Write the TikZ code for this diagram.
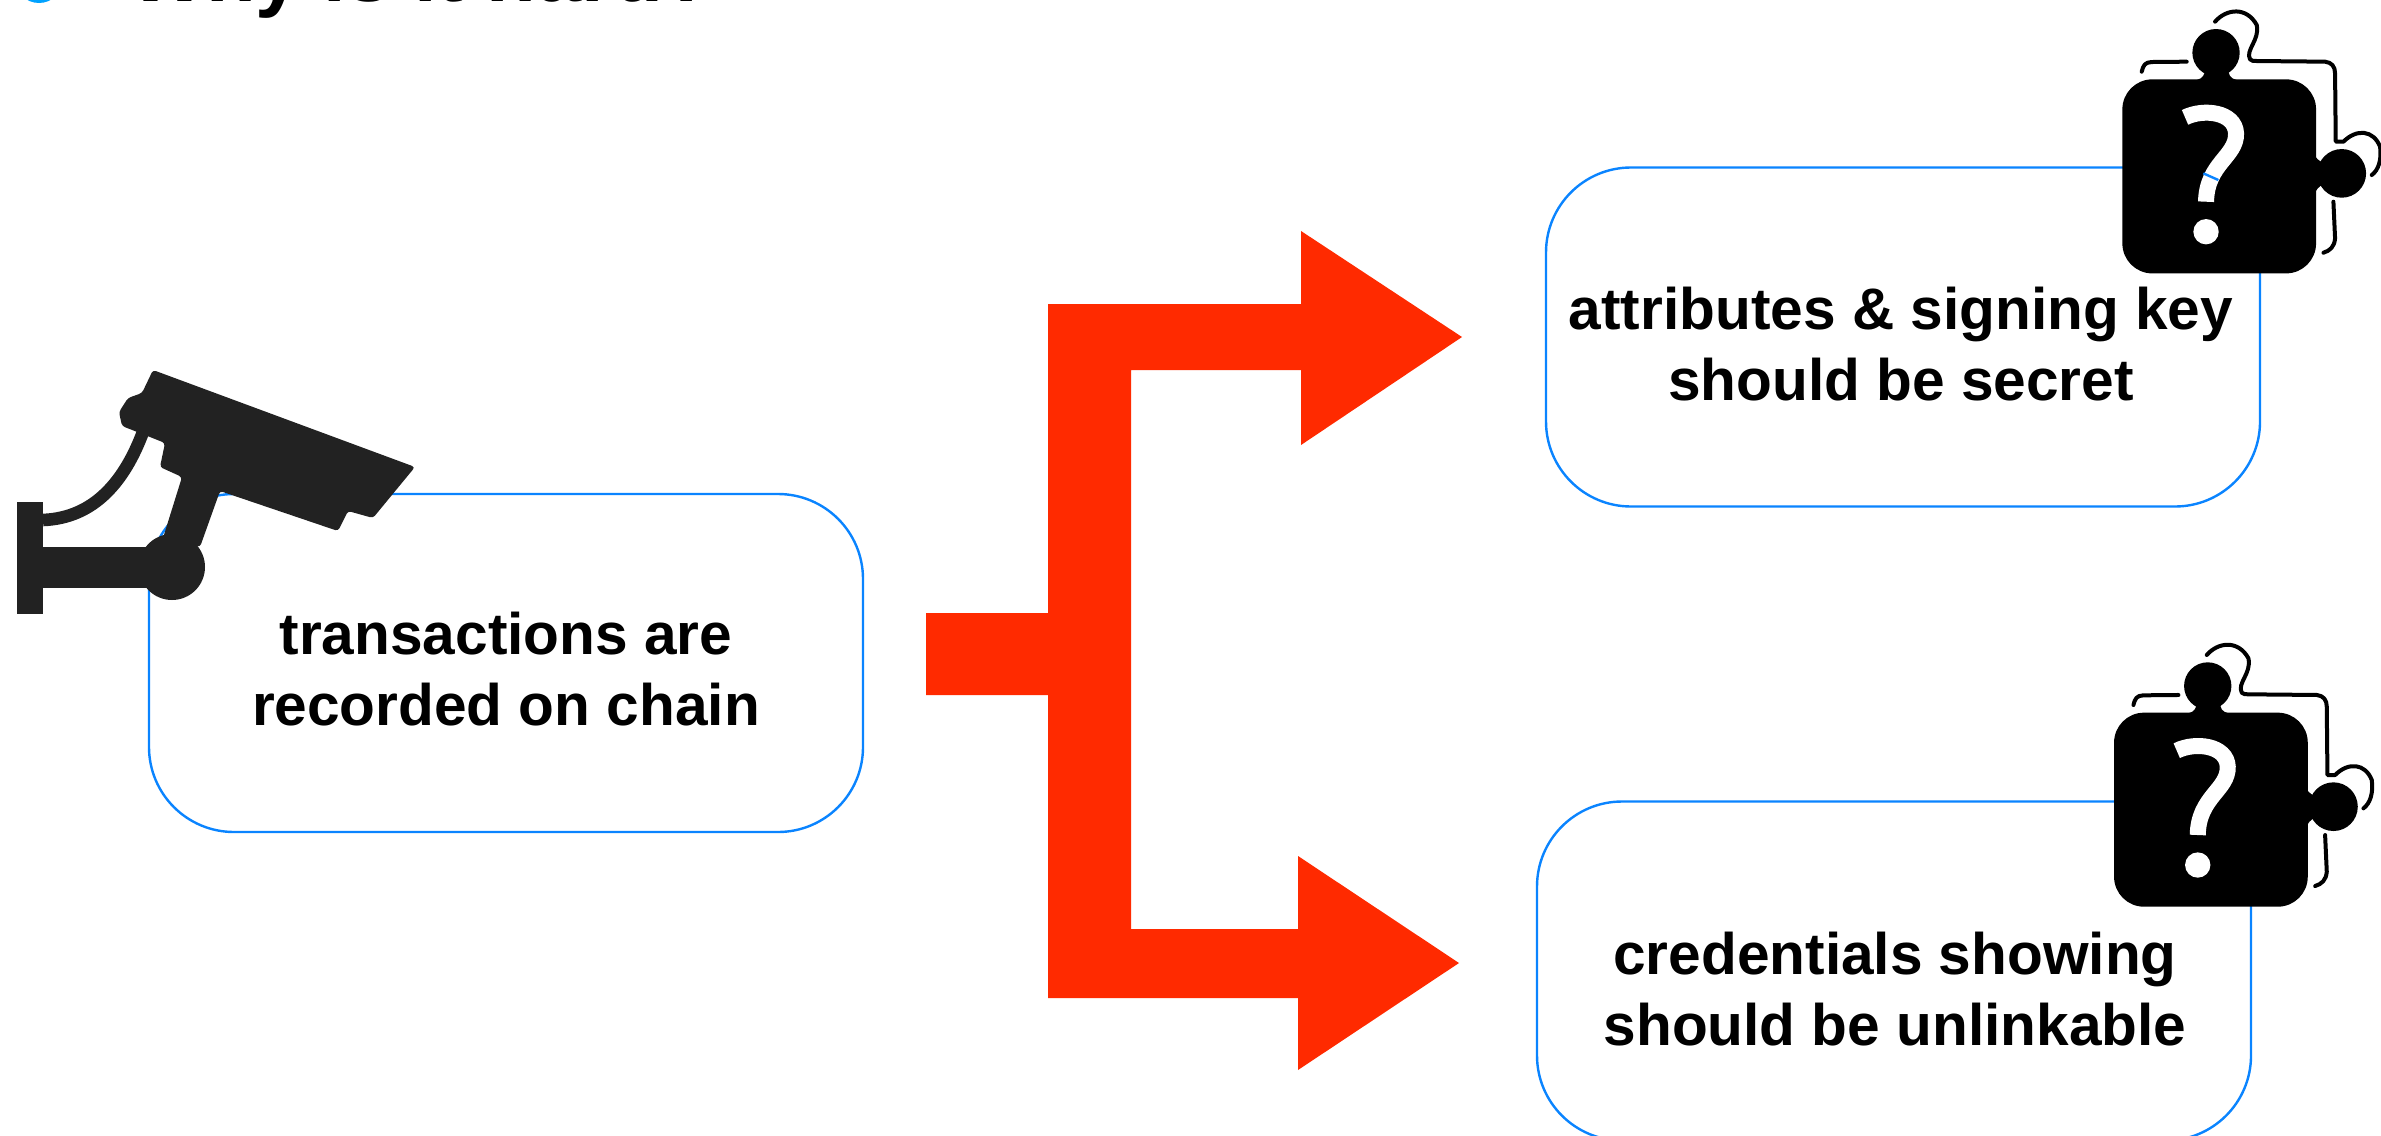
\documentclass[tikz,border=0pt]{standalone}
\usepackage{fontspec}
\setmainfont{Liberation Sans}
\definecolor{boxblue}{HTML}{0A84FF}
\definecolor{bulletblue}{HTML}{00A2FF}
\definecolor{redarrow}{HTML}{FF2A00}
\definecolor{camblack}{HTML}{222222}
\tikzset{
  roundbox/.style={draw=boxblue,line width=1.2pt,rounded corners=42.5pt,fill=white},
  boxlabel/.style={font=\fontsize{29.3}{35.5}\selectfont\bfseries,align=center,text=black,inner sep=0pt},
  redshape/.style={fill=redarrow,draw=none},
}
\newcommand{\puzzle}[1]{%
\begin{scope}[shift={#1},x=0.1667pt,y=-0.1667pt]
 \fill[black,rounded corners=15pt] (127,238) rectangle (708,820);
 \fill[black] (408,158) circle[radius=71];
 \fill[black] (375,205) -- (445,205) .. controls (445,225) and (450,235) .. (470,240) -- (350,240) .. controls (368,235) and (375,225) .. (375,205) -- cycle;
 \fill[black] (785,520) circle[radius=73];
 \fill[black] (740,490) -- (740,550) .. controls (725,553) and (715,560) .. (706,575) -- (706,470) .. controls (715,482) and (725,488) .. (740,490) -- cycle;
 \draw[black,line width=2pt,line cap=round,line join=round] (185,215) .. controls (190,195) and (195,187) .. (215,186) -- (320,185);
 \draw[black,line width=2pt,line cap=round,line join=round] (405,65) .. controls (440,25) and (500,20) .. (530,75) .. controls (540,120) and (495,150) .. (510,178) .. controls (515,183) and (520,183) .. (530,183) -- (735,185) .. controls (755,187) and (765,200) .. (765,220) -- (767,425) -- (790,425) .. controls (830,385) and (880,390) .. (900,440) .. controls (905,480) and (895,510) .. (875,525);
 \draw[black,line width=2pt,line cap=round,line join=round] (760,605) -- (765,715) .. controls (763,740) and (750,752) .. (730,758);
 \draw[white,line width=8pt] (315,352) .. controls (370,325) and (465,335) .. (468,400) .. controls (470,470) and (380,490) .. (378,605);
 \fill[white] (378,695) circle[radius=38];
\end{scope}}
\begin{document}
\begin{tikzpicture}[x=0.5pt,y=-0.5pt]
\useasboundingbox (0,0) rectangle (2381,1135);
\clip (0,0) rectangle (2381,1135);
% title
\fill[bulletblue] (39,-21) circle[radius=24];
\node[anchor=base west,inner sep=0pt,font=\fontsize{40.7}{44}\selectfont\bfseries] (title) at (129,2) {Why is it hard?};
% boxes
\node[roundbox,minimum width=357pt,minimum height=169pt,inner sep=0pt] (left) at (506,663) {};
\node[roundbox,minimum width=357pt,minimum height=169.5pt,inner sep=0pt] (top) at (1903,337) {};
\node[roundbox,minimum width=357pt,minimum height=169.5pt,inner sep=0pt] (bottom) at (1894,971) {};
\node[boxlabel] (lefttext) at (506,669) {transactions are\\recorded on chain};
\node[boxlabel] (toptext) at (1901,344) {attributes \& signing key\\should be secret};
\node[boxlabel] (bottomtext) at (1895,989) {credentials showing\\should be unlinkable};
% red branching arrow
\fill[redshape] (926,613) -- (1048,613) -- (1048,304) -- (1301,304) -- (1301,231) -- (1462,337) -- (1301,445) -- (1301,370) -- (1131,370) -- (1131,929) -- (1298,929) -- (1298,856) -- (1459,963) -- (1298,1070) -- (1298,998) -- (1048,998) -- (1048,695) -- (926,695) -- cycle;
% camera
\begin{scope}[camblack]
 \fill (17,502) rectangle (43,614);
 \fill (43,547) rectangle (150,588);
 \fill (172,567) circle[radius=33];
 \draw[line width=6.3pt] (43,520) .. controls (95,518) and (125,480) .. (143,432);
 \fill[rounded corners=1.5pt] (153,370) -- (415,467) -- (373,518) -- (348,511) -- (338,531) -- (220,491) -- (200,547) -- (163,538) -- (182,477) -- (160,467) -- (165,443) -- (150,437) -- (122,426) -- (119,412) -- (128,398) -- (142,393) -- cycle;
\end{scope}
% puzzles
\puzzle{(1040pt,0pt)}
\puzzle{(1035.85pt,-316.65pt)}
\begin{scope}[shift={(1040pt,0pt)},x=0.1667pt,y=-0.1667pt]
 \draw[boxblue,line width=1.2pt] (370,520) -- (415,540);
\end{scope}
\end{tikzpicture}
\end{document}
